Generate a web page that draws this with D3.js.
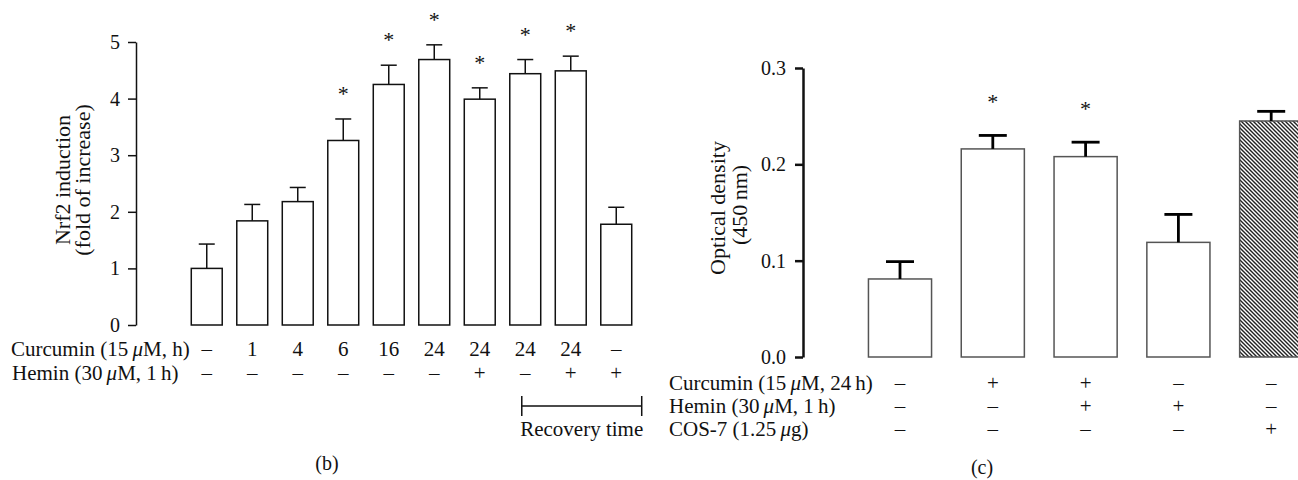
<!DOCTYPE html>
<html>
<head>
<meta charset="utf-8">
<script src="https://cdn.jsdelivr.net/npm/d3@7"></script>
<style>
  body { margin: 0; background: #fff; }
  svg text { font-family: "Liberation Serif", "Times New Roman", serif; fill: #111; }
</style>
</head>
<body>
<div id="chart"></div>
<script>
// panel (b): Nrf2 induction
var bCurcumin = ["–", "1", "4", "6", "16", "24", "24", "24", "24", "–"];
var bHemin = ["–", "–", "–", "–", "–", "–", "+", "–", "+", "+"];
var bMeans = [1.0, 1.84, 2.18, 3.26, 4.25, 4.69, 3.99, 4.44, 4.49, 1.78];
var bErrors = [0.43, 0.29, 0.25, 0.38, 0.34, 0.26, 0.20, 0.25, 0.26, 0.30];
var bSig = [0, 0, 0, 1, 1, 1, 1, 1, 1, 0];
var bTicks = [0, 1, 2, 3, 4, 5];

// panel (c): optical density
var cCurcumin = ["–", "+", "+", "–", "–"];
var cHemin = ["–", "–", "+", "+", "–"];
var cCos = ["–", "–", "–", "–", "+"];
var cMeans = [0.081, 0.216, 0.208, 0.119, 0.245];
var cErrors = [0.018, 0.014, 0.015, 0.029, 0.010];
var cSig = [0, 1, 1, 0, 0];
var cHatched = [false, false, false, false, true];
var cTicks = [0, 0.1, 0.2, 0.3];

var svgWidth = 1298;
var svgHeight = 480;
var labelSize = 21;

var svg = d3.select("#chart")
    .append("svg")
    .attr("width", svgWidth)
    .attr("height", svgHeight);

svg.append("rect").attr("width", svgWidth).attr("height", svgHeight).attr("fill", "#fff");

var defs = svg.append("defs");
defs.append("pattern")
    .attr("id", "hatch")
    .attr("patternUnits", "userSpaceOnUse")
    .attr("width", 4)
    .attr("height", 4)
    .call(function(p) {
        p.append("rect").attr("width", 4).attr("height", 4).attr("fill", "#fff");
        p.append("path")
            .attr("d", "M-1,-1 L5,5 M-1,3 L1,5 M3,-1 L5,1")
            .attr("stroke", "#222")
            .attr("stroke-width", 1.4);
    });

// helper for label with italic mu
function muLabel(sel, parts) {
    parts.forEach(function(p) {
        var t = sel.append("tspan").text(p[0]);
        if (p[1]) t.attr("font-style", "italic");
    });
}

// ---------- panel (b) ----------
var xb = d3.scaleBand()
    .domain(d3.range(bMeans.length))
    .range([184, 639])
    .paddingInner(0.32)
    .paddingOuter(0.16);

var yb = d3.scaleLinear()
    .domain([0, 5])
    .range([325, 42]);

var gb = svg.append("g");

var axisB = gb.append("g")
    .attr("transform", "translate(136,0)")
    .call(d3.axisLeft(yb).tickValues(bTicks).tickFormat(d3.format("d")).tickSize(8).tickSizeOuter(0).tickPadding(8));
axisB.selectAll("path, line").attr("stroke", "#111").attr("stroke-width", 1.5);
axisB.selectAll("text").attr("font-size", 20).attr("font-family", "Liberation Serif");

gb.selectAll("rect.bar")
    .data(bMeans)
    .enter()
    .append("rect")
    .attr("class", "bar")
    .attr("x", (d, i) => xb(i))
    .attr("y", d => yb(d))
    .attr("width", xb.bandwidth())
    .attr("height", d => yb(0) - yb(d))
    .attr("fill", "#fff")
    .attr("stroke", "#111")
    .attr("stroke-width", 1.5);

var errB = gb.selectAll("g.err")
    .data(bMeans)
    .enter()
    .append("g")
    .attr("class", "err");
errB.append("line")
    .attr("x1", (d, i) => xb(i) + xb.bandwidth() / 2)
    .attr("x2", (d, i) => xb(i) + xb.bandwidth() / 2)
    .attr("y1", d => yb(d))
    .attr("y2", (d, i) => yb(d + bErrors[i]))
    .attr("stroke", "#111").attr("stroke-width", 1.5);
errB.append("line")
    .attr("x1", (d, i) => xb(i) + xb.bandwidth() / 2 - 8)
    .attr("x2", (d, i) => xb(i) + xb.bandwidth() / 2 + 8)
    .attr("y1", (d, i) => yb(d + bErrors[i]))
    .attr("y2", (d, i) => yb(d + bErrors[i]))
    .attr("stroke", "#111").attr("stroke-width", 1.5);

bMeans.forEach(function(d, i) {
    if (!bSig[i]) return;
    gb.append("text")
        .attr("x", xb(i) + xb.bandwidth() / 2)
        .attr("y", yb(d + bErrors[i]) - 18)
        .attr("text-anchor", "middle")
        .attr("font-size", 22)
        .text("*");
});

gb.selectAll("text.rowCur")
    .data(bCurcumin)
    .enter()
    .append("text")
    .attr("x", (d, i) => xb(i) + xb.bandwidth() / 2)
    .attr("y", 356)
    .attr("text-anchor", "middle")
    .attr("font-size", labelSize)
    .text(d => d);

gb.selectAll("text.rowHem")
    .data(bHemin)
    .enter()
    .append("text")
    .attr("x", (d, i) => xb(i) + xb.bandwidth() / 2)
    .attr("y", 380)
    .attr("text-anchor", "middle")
    .attr("font-size", labelSize)
    .text(d => d);

muLabel(gb.append("text").attr("x", 11).attr("y", 356).attr("font-size", labelSize),
    [["Curcumin (15\u2009"], ["μ", true], ["M, h)"]]);
muLabel(gb.append("text").attr("x", 12).attr("y", 380).attr("font-size", labelSize),
    [["Hemin (30\u2009"], ["μ", true], ["M, 1\u2009h)"]]);

// recovery bracket
var rx1 = xb(7) + 12;
var rx2 = xb(9) + xb.bandwidth() + 10;
gb.append("path")
    .attr("d", `M${rx1},396 V416 M${rx1},406 H${rx2} M${rx2},396 V416`)
    .attr("stroke", "#111").attr("stroke-width", 1.5).attr("fill", "none");
gb.append("text")
    .attr("x", (rx1 + rx2) / 2)
    .attr("y", 436)
    .attr("text-anchor", "middle")
    .attr("font-size", labelSize)
    .text("Recovery time");

gb.append("text")
    .attr("transform", "translate(70,180) rotate(-90)")
    .attr("text-anchor", "middle")
    .attr("font-size", 22)
    .text("Nrf2 induction");
gb.append("text")
    .attr("transform", "translate(90,180) rotate(-90)")
    .attr("text-anchor", "middle")
    .attr("font-size", 22)
    .text("(fold of increase)");

gb.append("text")
    .attr("x", 327).attr("y", 470)
    .attr("text-anchor", "middle")
    .attr("font-size", 20)
    .text("(b)");

// ---------- panel (c) ----------
var xc = d3.scaleBand()
    .domain(d3.range(cMeans.length))
    .range([853.6, 1317.6])
    .paddingInner(0.32)
    .paddingOuter(0.16);

var yc = d3.scaleLinear()
    .domain([0, 0.3])
    .range([357, 68]);

var gc = svg.append("g");

var axisC = gc.append("g")
    .attr("transform", "translate(803,0)")
    .call(d3.axisLeft(yc).tickValues(cTicks).tickFormat(d3.format(".1f")).tickSize(8).tickSizeOuter(0).tickPadding(9));
axisC.selectAll("path, line").attr("stroke", "#111").attr("stroke-width", 2.5);
axisC.selectAll("text").attr("font-size", 20).attr("font-family", "Liberation Serif");

gc.selectAll("rect.bar")
    .data(cMeans)
    .enter()
    .append("rect")
    .attr("class", "bar")
    .attr("x", (d, i) => xc(i))
    .attr("y", d => yc(d))
    .attr("width", xc.bandwidth())
    .attr("height", d => yc(0) - yc(d))
    .attr("fill", (d, i) => cHatched[i] ? "url(#hatch)" : "#fff")
    .attr("stroke", "#555")
    .attr("stroke-width", 1.5);

var errC = gc.selectAll("g.err")
    .data(cMeans)
    .enter()
    .append("g")
    .attr("class", "err");
errC.append("line")
    .attr("x1", (d, i) => xc(i) + xc.bandwidth() / 2)
    .attr("x2", (d, i) => xc(i) + xc.bandwidth() / 2)
    .attr("y1", d => yc(d))
    .attr("y2", (d, i) => yc(d + cErrors[i]))
    .attr("stroke", "#000").attr("stroke-width", 2.8);
errC.append("line")
    .attr("x1", (d, i) => xc(i) + xc.bandwidth() / 2 - 14)
    .attr("x2", (d, i) => xc(i) + xc.bandwidth() / 2 + 14)
    .attr("y1", (d, i) => yc(d + cErrors[i]))
    .attr("y2", (d, i) => yc(d + cErrors[i]))
    .attr("stroke", "#000").attr("stroke-width", 2.8);

cMeans.forEach(function(d, i) {
    if (!cSig[i]) return;
    gc.append("text")
        .attr("x", xc(i) + xc.bandwidth() / 2)
        .attr("y", yc(d + cErrors[i]) - 26)
        .attr("text-anchor", "middle")
        .attr("font-size", 22)
        .attr("fill", "#333")
        .text("*");
});

[[cCurcumin, 390], [cHemin, 413], [cCos, 436]].forEach(function(row) {
    gc.selectAll(null)
        .data(row[0])
        .enter()
        .append("text")
        .attr("x", (d, i) => xc(i) + xc.bandwidth() / 2)
        .attr("y", row[1])
        .attr("text-anchor", "middle")
        .attr("font-size", labelSize)
        .text(d => d);
});

muLabel(gc.append("text").attr("x", 669).attr("y", 390).attr("font-size", labelSize),
    [["Curcumin (15\u2009"], ["μ", true], ["M, 24\u2009h)"]]);
muLabel(gc.append("text").attr("x", 669).attr("y", 413).attr("font-size", labelSize),
    [["Hemin (30\u2009"], ["μ", true], ["M, 1\u2009h)"]]);
muLabel(gc.append("text").attr("x", 669).attr("y", 436).attr("font-size", labelSize),
    [["COS-7 (1.25\u2009"], ["μ", true], ["g)"]]);

gc.append("text")
    .attr("transform", "translate(725,208) rotate(-90)")
    .attr("text-anchor", "middle")
    .attr("font-size", 22)
    .text("Optical density");
gc.append("text")
    .attr("transform", "translate(747,205) rotate(-90)")
    .attr("text-anchor", "middle")
    .attr("font-size", 22)
    .text("(450\u2009nm)");

gc.append("text")
    .attr("x", 982).attr("y", 474)
    .attr("text-anchor", "middle")
    .attr("font-size", 20)
    .text("(c)");
</script>
</body>
</html>
